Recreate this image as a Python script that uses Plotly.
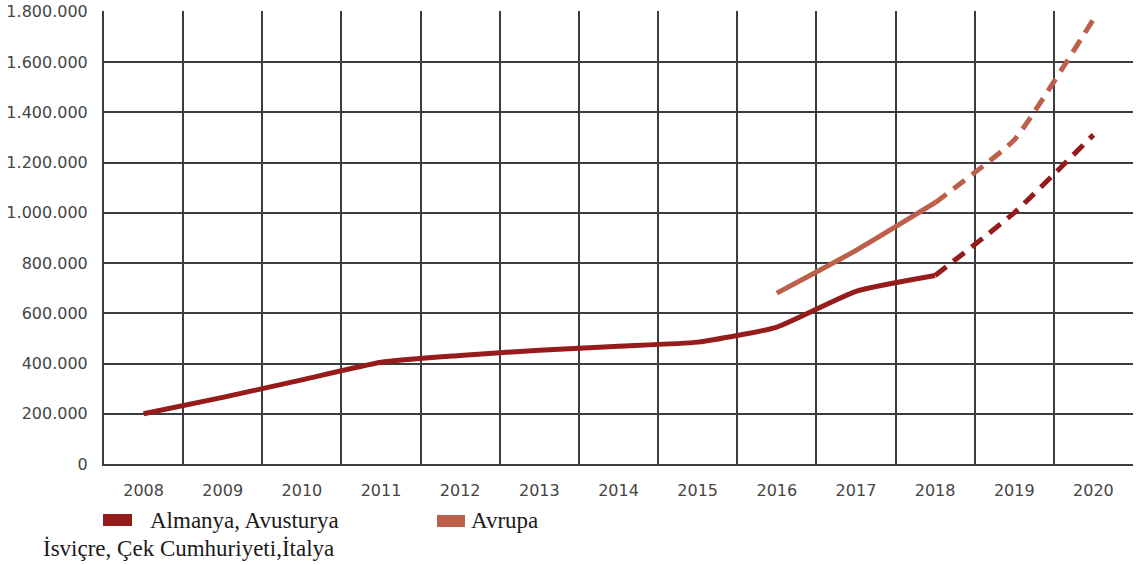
import plotly.graph_objects as go

years = ["2008", "2009", "2010", "2011", "2012", "2013", "2014",
         "2015", "2016", "2017", "2018", "2019", "2020"]
almanya = [200000, 265000, 335000, 405000, 432000, 453000, 469000,
           485000, 545000, 687000, 750000, 1000000, 1310000]
avrupa = [None, None, None, None, None, None, None,
          None, 680000, 850000, 1040000, 1290000, 1770000]
forecast_start = "2018"

y_ticks = [0, 200000, 400000, 600000, 800000, 1000000, 1200000, 1400000, 1600000, 1800000]

c_alm = "#951c1a"
c_avr = "#bd604b"
k = years.index(forecast_start)

def part(vals, solid):
    return [v if ((i <= k) if solid else (i >= k)) else None for i, v in enumerate(vals)]

fig = go.Figure()
fig.add_trace(go.Scatter(x=years, y=part(avrupa, True), mode="lines",
                         line=dict(color=c_avr, width=5, shape="spline", smoothing=0.5),
                         name="Avrupa", showlegend=False))
fig.add_trace(go.Scatter(x=years, y=part(avrupa, False), mode="lines",
                         line=dict(color=c_avr, width=5, dash="14px,9px", shape="spline", smoothing=0.4),
                         name="Avrupa", showlegend=False))
fig.add_trace(go.Scatter(x=years, y=part(almanya, True), mode="lines",
                         line=dict(color=c_alm, width=5, shape="spline", smoothing=0.5),
                         name="Almanya", showlegend=False))
fig.add_trace(go.Scatter(x=years, y=part(almanya, False), mode="lines",
                         line=dict(color=c_alm, width=5, dash="14px,9px", shape="spline", smoothing=0.4),
                         name="Almanya", showlegend=False))

# plot area spans x 104..1133, y 11..464 in the window
PL, PR, PT, PB = 104, 1133, 11, 464
W, H = 1138, 565
PW, PH = PR - PL, PB - PT

def px(x):
    return (x - PL) / PW

def py(y):
    return (PB - y) / PH

tick_font = dict(family="DejaVu Sans, sans-serif", size=16, color="#454545")
fig.update_layout(
    width=W, height=H,
    margin=dict(l=PL, r=W - PR, t=PT, b=H - PB),
    paper_bgcolor="white", plot_bgcolor="white",
    separators=",.",
    showlegend=False,
    xaxis=dict(type="category", tickson="boundaries", showgrid=True, automargin=False,
               gridcolor="#3c3c3c", gridwidth=2, showline=True, linecolor="#3c3c3c",
               linewidth=2, ticks="", tickfont=tick_font, ticklabelstandoff=11,
               range=[-0.5, 12.5]),
    yaxis=dict(range=[0, 1803000], tickvals=y_ticks, tickformat=",d", automargin=False,
               showgrid=True, gridcolor="#3c3c3c", gridwidth=2, showline=True,
               linecolor="#3c3c3c", linewidth=2, zeroline=False, ticks="",
               tickfont=tick_font, ticklabelstandoff=11),
)

# legend swatches and texts
fig.add_shape(type="rect", xref="paper", yref="paper",
              x0=px(103), x1=px(132), y0=py(526), y1=py(514),
              fillcolor=c_alm, line=dict(width=0))
fig.add_shape(type="rect", xref="paper", yref="paper",
              x0=px(437), x1=px(465), y0=py(527), y1=py(515),
              fillcolor=c_avr, line=dict(width=0))
serif = dict(family="Liberation Serif, Times New Roman, serif", size=23, color="#1a1a1a")
fig.add_annotation(xref="paper", yref="paper", x=px(149), y=py(520),
                   text="Almanya, Avusturya", showarrow=False, xanchor="left",
                   yanchor="middle", font=serif, borderpad=0)
fig.add_annotation(xref="paper", yref="paper", x=px(188), y=py(548),
                   text="İsviçre, Çek Cumhuriyeti,İtalya", showarrow=False, xanchor="center",
                   yanchor="middle", font=serif, borderpad=0)
fig.add_annotation(xref="paper", yref="paper", x=px(470), y=py(520),
                   text="Avrupa", showarrow=False, xanchor="left",
                   yanchor="middle", font=serif, borderpad=0)

fig.write_html("out.html", config={"displayModeBar": False},
               post_script="document.body.style.margin='0';document.body.style.overflow='hidden';")
